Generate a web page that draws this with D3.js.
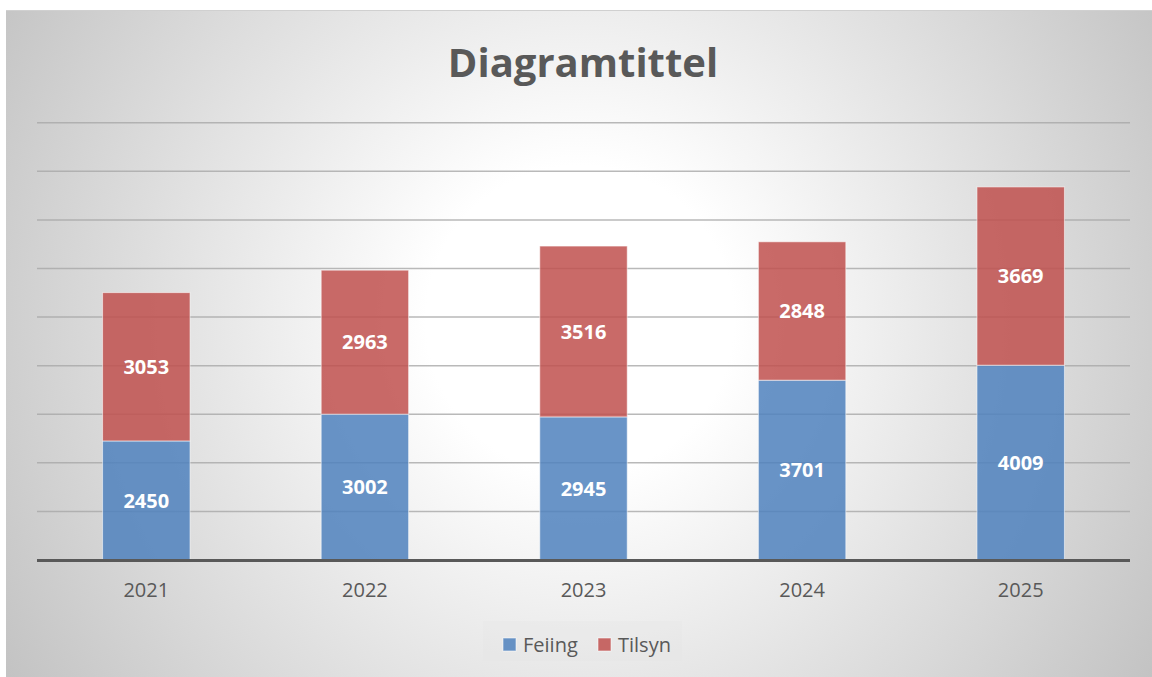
<!DOCTYPE html>
<html>
<head>
<meta charset="utf-8">
<script src="https://cdn.jsdelivr.net/npm/d3@7"></script>
<style>
  html, body { margin: 0; padding: 0; background: #fff; }
  svg { display: block; font-family: "Open Sans", "Noto Sans", sans-serif; }
</style>
</head>
<body>
<div id="chart"></div>
<script>
const years = ["2021", "2022", "2023", "2024", "2025"];
const feiing = [2450, 3002, 2945, 3701, 4009];
const tilsyn = [3053, 2963, 3516, 2848, 3669];
const seriesNames = ["Feiing", "Tilsyn"];
const seriesColors = ["#4f81bd", "#c0504d"];
const gridTicks = [1000, 2000, 3000, 4000, 5000, 6000, 7000, 8000, 9000];

const W = 1152, H = 677;
const plot = { left: 37, right: 1130, top: 122.7, bottom: 560 };
const textColor = "#595959";

const rows = years.map((y, i) => ({ year: y, Feiing: feiing[i], Tilsyn: tilsyn[i] }));
const stacked = d3.stack().keys(seriesNames)(rows);

const svg = d3.select("#chart").append("svg")
  .attr("width", W)
  .attr("height", H);

// radial background like the excel style
const defs = svg.append("defs");
const grad = defs.append("radialGradient")
  .attr("id", "bg")
  .attr("gradientUnits", "userSpaceOnUse")
  .attr("cx", 580).attr("cy", 320).attr("r", 700);
grad.append("stop").attr("offset", 0.22).attr("stop-color", "#ffffff");
grad.append("stop").attr("offset", 1).attr("stop-color", "#c0c0c0");

svg.append("rect")
  .attr("x", 6).attr("y", 10)
  .attr("width", W - 6).attr("height", H - 10)
  .attr("fill", "url(#bg)");
svg.append("line")
  .attr("x1", 6).attr("x2", W).attr("y1", 10.5).attr("y2", 10.5)
  .attr("stroke", "#d0d0d0");

const x = d3.scaleBand()
  .domain(years)
  .range([plot.left, plot.right])
  .paddingInner(0.6)
  .paddingOuter(0.3);

const y = d3.scaleLinear()
  .domain([0, 9000])
  .range([plot.bottom, plot.top]);

// gridlines
svg.append("g")
  .selectAll("line")
  .data(gridTicks)
  .enter()
  .append("line")
  .attr("x1", plot.left)
  .attr("x2", plot.right)
  .attr("y1", d => y(d))
  .attr("y2", d => y(d))
  .attr("stroke", "#a8a8a8")
  .attr("stroke-opacity", 0.8)
  .attr("stroke-width", 1.5);

// title
svg.append("text")
  .attr("x", 583)
  .attr("y", 77)
  .attr("text-anchor", "middle")
  .attr("font-size", 40)
  .attr("font-weight", "bold")
  .attr("fill", textColor)
  .text("Diagramtittel");

// bars
const layers = svg.append("g")
  .selectAll("g")
  .data(stacked)
  .enter()
  .append("g")
  .attr("fill", (d, i) => seriesColors[i]);

layers.selectAll("rect")
  .data(d => d)
  .enter()
  .append("rect")
  .attr("x", d => x(d.data.year))
  .attr("width", x.bandwidth())
  .attr("y", d => y(d[1]))
  .attr("height", d => y(d[0]) - y(d[1]))
  .attr("fill-opacity", 0.85)
  .attr("stroke", "#ffffff")
  .attr("stroke-opacity", 0.55)
  .attr("stroke-width", 1);

// data labels
layers.selectAll("text")
  .data(d => d.map(v => ({ v: v, key: d.key })))
  .enter()
  .append("text")
  .attr("x", d => x(d.v.data.year) + x.bandwidth() / 2)
  .attr("y", d => (y(d.v[0]) + y(d.v[1])) / 2)
  .attr("dy", "0.36em")
  .attr("text-anchor", "middle")
  .attr("font-size", 20)
  .attr("font-weight", "bold")
  .attr("fill", "#ffffff")
  .text(d => d.v.data[d.key]);

// x axis
const xAxis = svg.append("g")
  .attr("transform", `translate(0,${plot.bottom})`)
  .call(d3.axisBottom(x).tickSize(0).tickPadding(23));
xAxis.select(".domain").remove();
xAxis.selectAll("text")
  .attr("font-size", 20)
  .attr("font-family", "'Open Sans', sans-serif")
  .attr("fill", textColor);

svg.append("line")
  .attr("x1", plot.left)
  .attr("x2", plot.right)
  .attr("y1", plot.bottom + 0.5)
  .attr("y2", plot.bottom + 0.5)
  .attr("stroke", "#595959")
  .attr("stroke-width", 3);

// legend
const legend = svg.append("g");
legend.append("rect")
  .attr("x", 483).attr("y", 621)
  .attr("width", 199).attr("height", 40)
  .attr("fill", "#e6e6e6")
  .attr("fill-opacity", 0.3);

const legendX = [503, 598];
const items = legend.selectAll("g.item")
  .data(seriesNames)
  .enter()
  .append("g")
  .attr("class", "item")
  .attr("transform", (d, i) => `translate(${legendX[i]},638)`);
items.append("rect")
  .attr("width", 13).attr("height", 13)
  .attr("fill", (d, i) => seriesColors[i])
  .attr("fill-opacity", 0.85)
  .attr("stroke", "#ffffff")
  .attr("stroke-opacity", 0.55);
items.append("text")
  .attr("x", 20)
  .attr("y", 6.5)
  .attr("dy", "0.36em")
  .attr("font-size", 20)
  .attr("fill", textColor)
  .text(d => d);
</script>
</body>
</html>
